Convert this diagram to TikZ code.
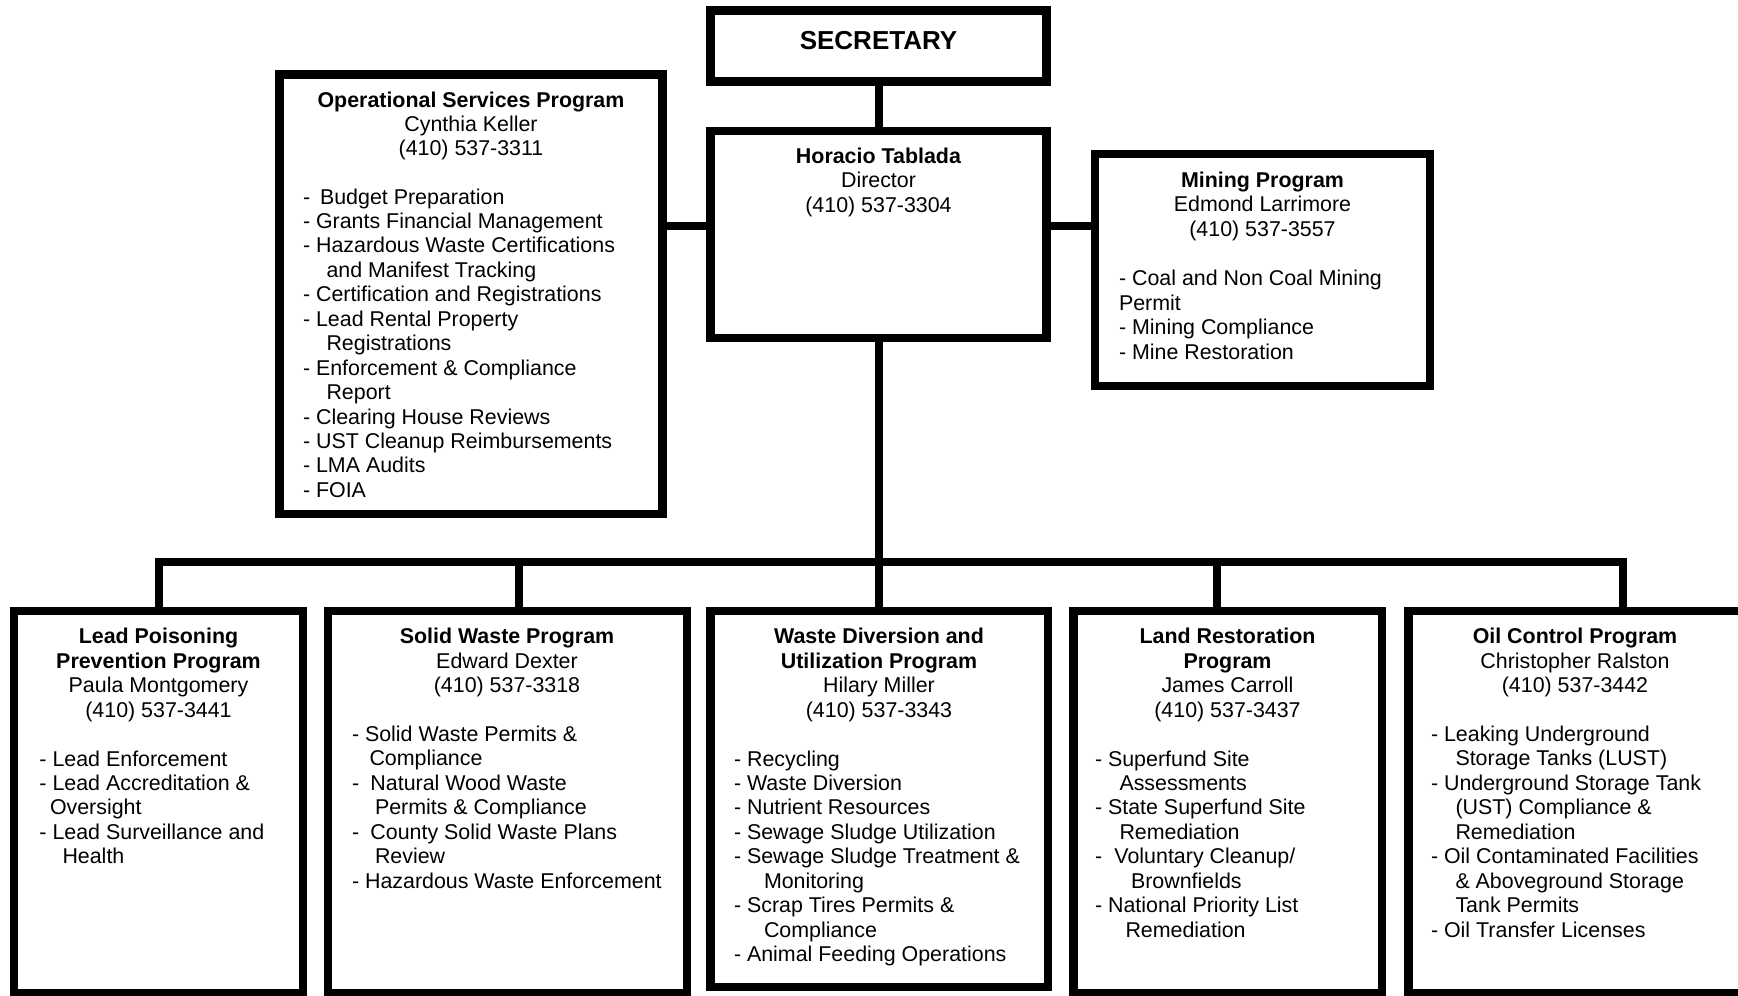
\documentclass[tikz,border=0pt]{standalone}
\usepackage{fontspec}
\setmainfont{Liberation Sans}
\begin{document}
\begin{tikzpicture}[x=0.5pt,y=-0.5pt,
  box/.style={draw, line width=4.25pt, inner sep=0pt, outer sep=0pt},
  link/.style={draw, line width=4pt, line join=miter},
  txt/.style={inner sep=0pt, outer sep=0pt, font=\fontsize{10.7}{12.25}\selectfont},
  bigtxt/.style={inner sep=0pt, font=\bfseries\fontsize{13}{15}\selectfont}]
\useasboundingbox (0,0) rectangle (1738,995);
\clip (0,0) rectangle (1738,995);
\newcommand\ctext[4]{\foreach \tx [count=\ii from 0] in {#4} {\node[txt, anchor=base] (#1t\ii) at (#2, {#3+24.45*\ii}) {\tx};}}
\newcommand\ltext[3]{\foreach \xx/\tx [count=\ii from 0] in {#3} {\node[txt, anchor=base west] (#1l\ii) at (\xx, {#2+24.45*\ii}) {\tx};}}
% boxes
\node[box, minimum width=168pt, minimum height=35.5pt] (sec) at (878.5,46) {};
\node[box, minimum width=168pt, minimum height=103.5pt] (dir) at (878.5,234.5) {};
\node[box, minimum width=191.5pt, minimum height=219.75pt] (ops) at (471,294.25) {};
\node[box, minimum width=167.5pt, minimum height=116pt] (min) at (1262.5,270) {};
\node[box, minimum width=144.5pt, minimum height=191pt] (lead) at (158.5,802) {};
\node[box, minimum width=179.5pt, minimum height=191pt] (solid) at (507.5,802) {};
\node[box, minimum width=168.75pt, minimum height=188pt] (waste) at (879.25,799) {};
\node[box, minimum width=154.25pt, minimum height=191pt] (land) at (1227.75,802) {};
\node[box, minimum width=166.75pt, minimum height=191pt] (oil) at (1575.25,802) {};
% connectors
\coordinate (yl) at (0,226);
\coordinate (busR) at (1622.5,562);
\coordinate (dS) at (519,562);
\coordinate (dL) at (1216.6,562);
\draw[link] (sec.south) -- (dir.north);
\draw[link] (ops.east |- yl) -- (dir.west |- yl);
\draw[link] (dir.east |- yl) -- (min.west |- yl);
\draw[link] (dir.south) -- (dir.south |- busR);
\draw[link] (lead.north) |- (busR) -- (busR |- oil.north);
\draw[link] (dS) -- (dS |- solid.north);
\draw[link] (waste.north) -- (waste.north |- busR);
\draw[link] (dL) -- (dL |- land.north);
% texts
\node[bigtxt, anchor=base] (sect) at (878.5,50) {SECRETARY};
\ctext{dir}{878.5}{163.5}{\textbf{Horacio Tablada}, Director, (410) 537-3304}
\ctext{ops}{471}{107}{\textbf{Operational Services Program}, Cynthia Keller, (410) 537-3311}
\ltext{ops}{204}{303/{-\hspace*{2pt} Budget Preparation}, 303/- Grants Financial Management, 303/- Hazardous Waste Certifications, 326.5/and Manifest Tracking, 303/- Certification and Registrations, 303/- Lead Rental Property, 326.5/Registrations, 303/- Enforcement \& Compliance, 326.5/Report, 303/- Clearing House Reviews, 303/- UST Cleanup Reimbursements, 303/- LMA Audits, 303/- FOIA}
\ctext{min}{1262.5}{187.3}{\textbf{Mining Program}, Edmond Larrimore, (410) 537-3557}
\ltext{min}{285.7}{1119/- Coal and Non Coal Mining, 1119/Permit, 1119/- Mining Compliance, 1119/- Mine Restoration}
\ctext{lead}{158.5}{643.8}{\textbf{Lead Poisoning}, \textbf{Prevention Program}, Paula Montgomery, (410) 537-3441}
\ltext{lead}{766}{39.5/- Lead Enforcement, 39.5/- Lead Accreditation \&, 50/Oversight, 39.5/- Lead Surveillance and, 62.5/Health}
\ctext{solid}{507}{643.8}{\textbf{Solid Waste Program}, Edward Dexter, (410) 537-3318}
\ltext{solid}{741.5}{352/- Solid Waste Permits \&, 369.5/Compliance, 352/{-\hspace*{2.7pt} Natural Wood Waste}, 375/Permits \& Compliance, 352/{-\hspace*{2.7pt} County Solid Waste Plans}, 375/Review, 352/- Hazardous Waste Enforcement}
\ctext{waste}{879}{643.8}{\textbf{Waste Diversion and}, \textbf{Utilization Program}, Hilary Miller, (410) 537-3343}
\ltext{waste}{766}{734/- Recycling, 734/- Waste Diversion, 734/- Nutrient Resources, 734/- Sewage Sludge Utilization, 734/- Sewage Sludge Treatment \&, 764/Monitoring, 734/- Scrap Tires Permits \&, 764/Compliance, 734/- Animal Feeding Operations}
\ctext{land}{1227.5}{643.8}{\textbf{Land Restoration}, \textbf{Program}, James Carroll, (410) 537-3437}
\ltext{land}{766}{1095/- Superfund Site, 1119.5/Assessments, 1095/- State Superfund Site, 1119.5/Remediation, 1095/{-\hspace*{3.2pt} Voluntary Cleanup/}, 1131/Brownfields, 1095/- National Priority List, 1125.5/Remediation}
\ctext{oil}{1575}{643.8}{\textbf{Oil Control Program}, Christopher Ralston, (410) 537-3442}
\ltext{oil}{741.5}{1431/- Leaking Underground, 1455.5/Storage Tanks (LUST), 1431/- Underground Storage Tank, 1455.5/(UST) Compliance \&, 1455.5/Remediation, 1431/- Oil Contaminated Facilities, 1455.5/\& Aboveground Storage, 1455.5/Tank Permits, 1431/- Oil Transfer Licenses}
\end{tikzpicture}
\end{document}
